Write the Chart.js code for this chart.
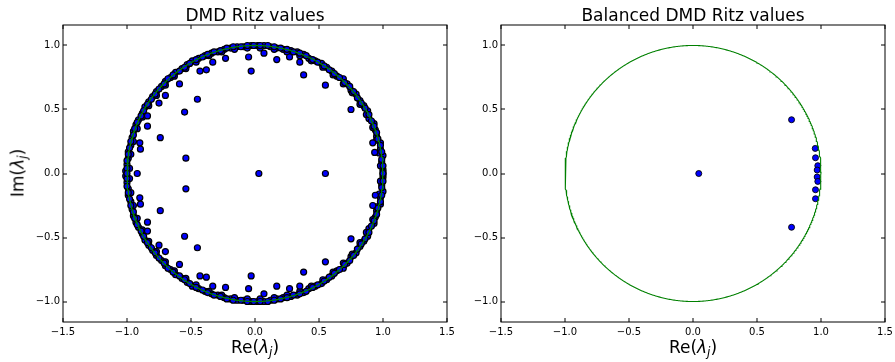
<!DOCTYPE html>
<html>
<head>
<meta charset="utf-8">
<script src="https://cdn.jsdelivr.net/npm/chart.js@4.4.1/dist/chart.umd.min.js"></script>
<style>
  html, body { margin: 0; padding: 0; background: #fff; }
  body { width: 895px; height: 362px; position: relative; overflow: hidden; font-family: "DejaVu Sans", sans-serif; }
  canvas { position: absolute; top: 0; }
  #c1 { left: 0; }
  #c2 { left: 460px; }
  .title { position: absolute; top: 7px; font-size: 17px; line-height: 17px; white-space: nowrap; transform: translateX(-50%); color: #000; }
  .xlab { position: absolute; top: 339px; font-size: 17px; line-height: 17px; white-space: nowrap; transform: translateX(-50%); color: #000; }
  .ylab { position: absolute; left: 18px; top: 173px; font-size: 17px; line-height: 17px; white-space: nowrap; transform: translate(-50%, -50%) rotate(-90deg); color: #000; }
  sub { font-size: 12px; line-height: 0; vertical-align: -3px; }
</style>
</head>
<body>
<canvas id="c1" width="460" height="362"></canvas>
<canvas id="c2" width="460" height="362"></canvas>
<div class="title" style="left:255px">DMD Ritz values</div>
<div class="title" style="left:693px">Balanced DMD Ritz values</div>
<div class="xlab" style="left:255px">Re(<i>λ</i><sub><i>j</i></sub>)</div>
<div class="xlab" style="left:693px">Re(<i>λ</i><sub><i>j</i></sub>)</div>
<div class="ylab">Im(<i>λ</i><sub><i>j</i></sub>)</div>
<script>
// ---- tick values / labels ----
const xTickVals = [-1.5, -1.0, -0.5, 0.0, 0.5, 1.0, 1.5];
const xTickLabels = ['\u22121.5', '\u22121.0', '\u22120.5', '0.0', '0.5', '1.0', '1.5'];
const yTickVals = [-1.0, -0.5, 0.0, 0.5, 1.0];
const yTickLabels = ['\u22121.0', '\u22120.5', '0.0', '0.5', '1.0'];

// ---- DMD Ritz values (left panel) ----
// ring near |lambda| = 1, upper half (three interleaved groups)
const ringUpRe = [
  1.00, 0.99, 1.00, 0.98, 0.98, 0.95, 0.94, 0.93, 0.89, 0.88, 0.85, 0.82, 0.79, 0.75, 0.72,
  0.69, 0.64, 0.60, 0.56, 0.52, 0.47, 0.42, 0.38, 0.33, 0.28, 0.22, 0.17, 0.12, 0.07, 0.02,
  -0.03, -0.09, -0.14, -0.19, -0.24, -0.29, -0.34, -0.39, -0.44, -0.49, -0.53, -0.57, -0.62, -0.66, -0.70,
  -0.73, -0.77, -0.80, -0.83, -0.86, -0.88, -0.91, -0.93, -0.95, -0.96, -0.97, -0.99, -0.99, -1.00, -1.01,
  0.98, 0.97, 0.95, 0.92, 0.87, 0.82, 0.76, 0.69, 0.61, 0.53, 0.44, 0.35, 0.25, 0.15, 0.04,
  -0.06, -0.16, -0.26, -0.36, -0.46, -0.54, -0.63, -0.70, -0.77, -0.83, -0.88, -0.92, -0.95, -0.97, -0.98,
  1.00, 1.00, 0.99, 0.99, 0.98, 0.96, 0.95, 0.93, 0.91, 0.89, 0.86, 0.83, 0.80, 0.77, 0.74,
  0.70, 0.66, 0.62, 0.58, 0.54, 0.49, 0.45, 0.40, 0.35, 0.30, 0.25, 0.20, 0.15, 0.10, 0.04,
  -0.01, -0.06, -0.11, -0.17, -0.22, -0.27, -0.32, -0.37, -0.41, -0.46, -0.51, -0.55, -0.59, -0.64, -0.68,
  -0.71, -0.75, -0.78, -0.81, -0.84, -0.87, -0.89, -0.92, -0.94, -0.95, -0.97, -0.98, -0.99, -1.00, -1.00
];
const ringUpIm = [
  0.03, 0.09, 0.14, 0.19, 0.24, 0.29, 0.34, 0.39, 0.43, 0.49, 0.53, 0.57, 0.62, 0.65, 0.70,
  0.74, 0.76, 0.80, 0.83, 0.86, 0.88, 0.90, 0.93, 0.95, 0.96, 0.97, 0.98, 0.99, 1.00, 1.00,
  1.00, 0.99, 0.99, 0.98, 0.97, 0.95, 0.94, 0.92, 0.90, 0.88, 0.85, 0.82, 0.79, 0.75, 0.72,
  0.68, 0.64, 0.60, 0.56, 0.52, 0.47, 0.42, 0.38, 0.33, 0.28, 0.22, 0.17, 0.12, 0.07, 0.02,
  0.06, 0.16, 0.26, 0.36, 0.46, 0.54, 0.63, 0.70, 0.77, 0.83, 0.88, 0.92, 0.95, 0.97, 0.98,
  0.98, 0.97, 0.95, 0.92, 0.87, 0.82, 0.76, 0.69, 0.61, 0.53, 0.44, 0.35, 0.25, 0.15, 0.04,
  0.01, 0.06, 0.11, 0.17, 0.22, 0.27, 0.32, 0.37, 0.41, 0.46, 0.51, 0.55, 0.59, 0.64, 0.68,
  0.71, 0.75, 0.78, 0.81, 0.84, 0.87, 0.89, 0.92, 0.94, 0.95, 0.97, 0.98, 0.99, 1.00, 1.00,
  1.00, 1.00, 0.99, 0.99, 0.98, 0.96, 0.95, 0.93, 0.91, 0.89, 0.86, 0.83, 0.80, 0.77, 0.74,
  0.70, 0.66, 0.62, 0.58, 0.54, 0.49, 0.45, 0.40, 0.35, 0.30, 0.25, 0.20, 0.15, 0.10, 0.04
];
// ring near |lambda| = 1, lower half (conjugates)
const ringLowRe = [
  1.00, 0.99, 1.00, 0.98, 0.98, 0.95, 0.94, 0.93, 0.89, 0.88, 0.85, 0.82, 0.79, 0.75, 0.72,
  0.69, 0.64, 0.60, 0.56, 0.52, 0.47, 0.42, 0.38, 0.33, 0.28, 0.22, 0.17, 0.12, 0.07, 0.02,
  -0.03, -0.09, -0.14, -0.19, -0.24, -0.29, -0.34, -0.39, -0.44, -0.49, -0.53, -0.57, -0.62, -0.66, -0.70,
  -0.73, -0.77, -0.80, -0.83, -0.86, -0.88, -0.91, -0.93, -0.95, -0.96, -0.97, -0.99, -0.99, -1.00, -1.01,
  0.98, 0.97, 0.95, 0.92, 0.87, 0.82, 0.76, 0.69, 0.61, 0.53, 0.44, 0.35, 0.25, 0.15, 0.04,
  -0.06, -0.16, -0.26, -0.36, -0.46, -0.54, -0.63, -0.70, -0.77, -0.83, -0.88, -0.92, -0.95, -0.97, -0.98,
  1.00, 1.00, 0.99, 0.99, 0.98, 0.96, 0.95, 0.93, 0.91, 0.89, 0.86, 0.83, 0.80, 0.77, 0.74,
  0.70, 0.66, 0.62, 0.58, 0.54, 0.49, 0.45, 0.40, 0.35, 0.30, 0.25, 0.20, 0.15, 0.10, 0.04,
  -0.01, -0.06, -0.11, -0.17, -0.22, -0.27, -0.32, -0.37, -0.41, -0.46, -0.51, -0.55, -0.59, -0.64, -0.68,
  -0.71, -0.75, -0.78, -0.81, -0.84, -0.87, -0.89, -0.92, -0.94, -0.95, -0.97, -0.98, -0.99, -1.00, -1.00
];
const ringLowIm = [
  -0.03, -0.09, -0.14, -0.19, -0.24, -0.29, -0.34, -0.39, -0.43, -0.49, -0.53, -0.57, -0.62, -0.65, -0.70,
  -0.74, -0.76, -0.80, -0.83, -0.86, -0.88, -0.90, -0.93, -0.95, -0.96, -0.97, -0.98, -0.99, -1.00, -1.00,
  -1.00, -0.99, -0.99, -0.98, -0.97, -0.95, -0.94, -0.92, -0.90, -0.88, -0.85, -0.82, -0.79, -0.75, -0.72,
  -0.68, -0.64, -0.60, -0.56, -0.52, -0.47, -0.42, -0.38, -0.33, -0.28, -0.22, -0.17, -0.12, -0.07, -0.02,
  -0.06, -0.16, -0.26, -0.36, -0.46, -0.54, -0.63, -0.70, -0.77, -0.83, -0.88, -0.92, -0.95, -0.97, -0.98,
  -0.98, -0.97, -0.95, -0.92, -0.87, -0.82, -0.76, -0.69, -0.61, -0.53, -0.44, -0.35, -0.25, -0.15, -0.04,
  -0.01, -0.06, -0.11, -0.17, -0.22, -0.27, -0.32, -0.37, -0.41, -0.46, -0.51, -0.55, -0.59, -0.64, -0.68,
  -0.71, -0.75, -0.78, -0.81, -0.84, -0.87, -0.89, -0.92, -0.94, -0.95, -0.97, -0.98, -0.99, -1.00, -1.00,
  -1.00, -1.00, -0.99, -0.99, -0.98, -0.96, -0.95, -0.93, -0.91, -0.89, -0.86, -0.83, -0.80, -0.77, -0.74,
  -0.70, -0.66, -0.62, -0.58, -0.54, -0.49, -0.45, -0.40, -0.35, -0.30, -0.25, -0.20, -0.15, -0.10, -0.04
];
// values on the real axis and well inside the circle
const innerRe = [
  1.00, -1.00, 0.03, 0.55, -0.92,
  -0.54, -0.55, -0.45, -0.74, -0.90, -0.895, -0.84, -0.84, -0.75, -0.70, -0.59, -0.43, -0.38,
  -0.33, -0.23, -0.05, -0.03, 0.07, 0.17, 0.27, 0.35, 0.38, 0.55, 0.75, 0.92, 0.935,
  -0.54, -0.55, -0.45, -0.74, -0.90, -0.895, -0.84, -0.84, -0.75, -0.70, -0.59, -0.43, -0.38,
  -0.33, -0.23, -0.05, -0.03, 0.07, 0.17, 0.27, 0.35, 0.38, 0.55, 0.75, 0.94, 0.92
];
const innerIm = [
  0.00, 0.00, 0.00, 0.00, 0.00,
  0.12, 0.48, 0.58, 0.28, 0.24, 0.19, 0.45, 0.37, 0.55, 0.61, 0.70, 0.80, 0.81,
  0.87, 0.90, 0.91, 0.80, 0.94, 0.89, 0.91, 0.87, 0.77, 0.69, 0.50, 0.24, 0.165,
  -0.12, -0.49, -0.58, -0.29, -0.19, -0.24, -0.45, -0.38, -0.56, -0.61, -0.71, -0.80, -0.81,
  -0.88, -0.89, -0.90, -0.80, -0.94, -0.88, -0.90, -0.88, -0.77, -0.69, -0.51, -0.17, -0.25
];

// ---- Balanced DMD Ritz values (right panel) ----
const balRe = [0.045, 0.77, 0.77, 0.955, 0.957, 0.975, 0.97, 0.97, 0.975, 0.957, 0.957];
const balIm = [0.00, 0.42, -0.42, 0.196, 0.123, 0.061, 0.027, -0.027, -0.062, -0.127, -0.197];

// unit circle reference curve
const circleSegments = 720;
const unitCircle = [];
for (let k = 0; k <= circleSegments; k++) {
  const t = 2 * Math.PI * k / circleSegments;
  unitCircle.push({ x: Math.cos(t), y: Math.sin(t) });
}

const toPoints = (re, im) => re.map((v, i) => ({ x: v, y: im[i] }));
const ritzPoints = [].concat(
  toPoints(ringUpRe, ringUpIm),
  toPoints(ringLowRe, ringLowIm),
  toPoints(innerRe, innerIm)
);
const balPoints = toPoints(balRe, balIm);

const frameTicks = {
  id: 'frameTicks',
  afterDraw(chart) {
    const { ctx, chartArea: a, scales: { x, y } } = chart;
    ctx.save();
    ctx.strokeStyle = '#000';
    ctx.lineWidth = 1;
    ctx.strokeRect(a.left, a.top, a.right - a.left, a.bottom - a.top);
    ctx.beginPath();
    xTickVals.forEach(v => {
      const px = Math.round(x.getPixelForValue(v));
      ctx.moveTo(px, a.bottom); ctx.lineTo(px, a.bottom - 4);
      ctx.moveTo(px, a.top); ctx.lineTo(px, a.top + 4);
    });
    yTickVals.forEach(v => {
      const py = Math.round(y.getPixelForValue(v));
      ctx.moveTo(a.left, py); ctx.lineTo(a.left + 4, py);
      ctx.moveTo(a.right, py); ctx.lineTo(a.right - 4, py);
    });
    ctx.stroke();
    ctx.restore();
  }
};

function makeChart(id, points, yAxisWidth, padRight, circleWidth, edgeWidth) {
  return new Chart(document.getElementById(id), {
    type: 'scatter',
    data: {
      datasets: [
        {
          type: 'line',
          data: unitCircle,
          borderColor: '#008000',
          borderWidth: circleWidth,
          pointRadius: 0,
          fill: false,
          tension: 0,
          order: 0
        },
        {
          data: points,
          backgroundColor: '#0000ff',
          borderColor: '#000000',
          borderWidth: edgeWidth,
          pointRadius: 3,
          order: 1
        }
      ]
    },
    options: {
      responsive: false,
      animation: false,
      devicePixelRatio: 1,
      layout: { padding: { left: 0, right: padRight, top: 25, bottom: 0 } },
      plugins: { legend: { display: false }, tooltip: { enabled: false }, title: { display: false } },
      scales: {
        x: {
          type: 'linear', min: -1.5, max: 1.5,
          grid: { display: false, drawTicks: false },
          border: { display: false },
          ticks: {
            padding: 4, autoSkip: false, maxRotation: 0, color: '#000',
            font: { family: 'DejaVu Sans', size: 10 },
            callback: v => { const i = xTickVals.findIndex(t => Math.abs(t - v) < 1e-9); return i >= 0 ? xTickLabels[i] : ''; }
          },
          afterBuildTicks: s => { s.ticks = xTickVals.map(v => ({ value: v })); },
          afterFit: s => { s.height = 40; }
        },
        y: {
          type: 'linear', min: -1.16, max: 1.16,
          grid: { display: false, drawTicks: false },
          border: { display: false },
          ticks: {
            padding: 3, autoSkip: false, color: '#000',
            font: { family: 'DejaVu Sans', size: 10 },
            callback: v => { const i = yTickVals.findIndex(t => Math.abs(t - v) < 1e-9); return i >= 0 ? yTickLabels[i] : ''; }
          },
          afterBuildTicks: s => { s.ticks = yTickVals.map(v => ({ value: v })); },
          afterFit: s => { s.width = yAxisWidth; }
        }
      }
    },
    plugins: [frameTicks]
  });
}

makeChart('c1', ritzPoints, 63, 13, 1.3, 1.2);
makeChart('c2', balPoints, 41, 35, 1.1, 0.9);
</script>
</body>
</html>
